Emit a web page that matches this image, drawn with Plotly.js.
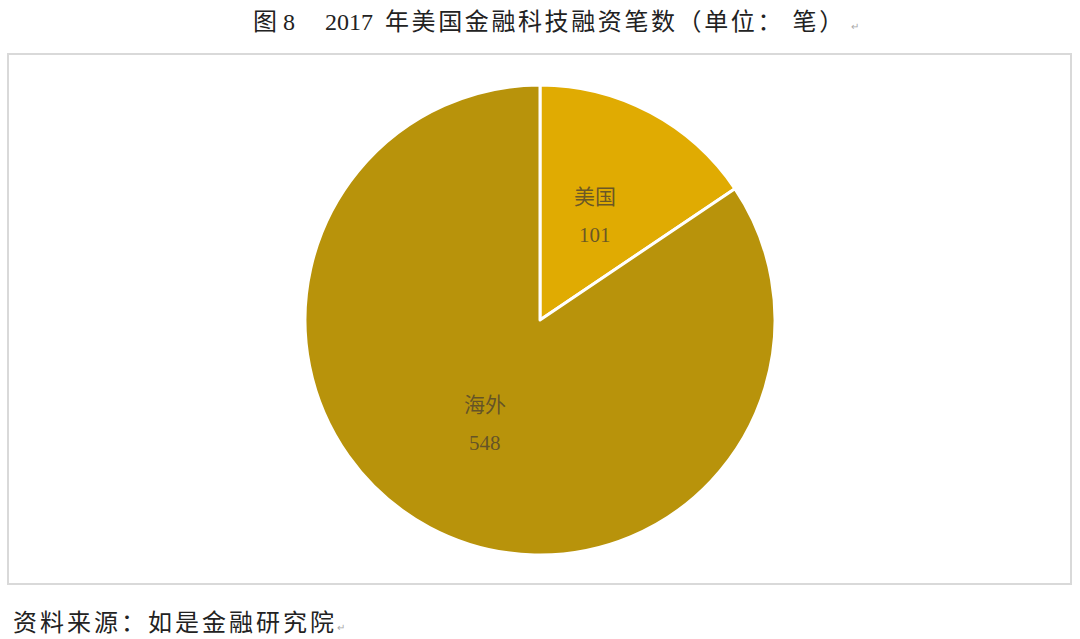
<!DOCTYPE html>
<html>
<head>
<meta charset="utf-8">
<script src="https://cdn.plot.ly/plotly-3.0.1.min.js"></script>
<style>
  html, body { margin: 0; padding: 0; background: #fff; }
  #chart { width: 1080px; height: 639px; }
</style>
</head>
<body>
<div id="chart"></div>
<script>
// 2017 US fintech deal counts
const regions = ["美国", "海外"];
const deals = [101, 548];
const sliceColors = ["#E0AB02", "#B8930B"];

const figNo = "图 8";
const titleYear = "2017";
const titleText = "年美国金融科技融资笔数（单位： 笔）";
const sourceText = "资料来源：如是金融研究院";

const W = 1080, H = 639;
const fontFam = "'Liberation Serif', 'Noto Sans CJK SC', serif";
const labelColor = "rgba(85,72,45,0.85)";

// pie box in pixels: centre (540,320), radius 235
const cx = 540, cy = 320, R = 235;

var trace = {
  type: "pie",
  labels: regions,
  values: deals,
  sort: false,
  direction: "clockwise",
  rotation: 0,
  marker: { colors: sliceColors, line: { color: "#ffffff", width: 3 } },
  textinfo: "none",
  hoverinfo: "label+value+percent",
  showlegend: false,
  domain: { x: [(cx - R) / W, (cx + R) / W], y: [1 - (cy + R) / H, 1 - (cy - R) / H] }
};

// slice labels sit halfway out along each slice's bisector
var total = deals.reduce((a, b) => a + b, 0);
var sliceNotes = [];
var cum = 0;
for (var i = 0; i < deals.length; i++) {
  var mid = (cum + deals[i] / 2) / total * 2 * Math.PI;
  cum += deals[i];
  var px = cx + 0.5 * R * Math.sin(mid);
  var py = cy - 0.5 * R * Math.cos(mid);
  sliceNotes.push({
    text: regions[i], xref: "paper", yref: "paper", x: px / W, y: 1 - py / H,
    yshift: 19, showarrow: false, font: { family: fontFam, size: 21, color: labelColor }
  });
  sliceNotes.push({
    text: String(deals[i]), xref: "paper", yref: "paper", x: px / W, y: 1 - py / H,
    yshift: -19, showarrow: false, font: { family: fontFam, size: 21, color: labelColor }
  });
}

var layout = {
  width: W,
  height: H,
  margin: { l: 0, r: 0, t: 0, b: 0 },
  paper_bgcolor: "#ffffff",
  font: { family: fontFam, color: "#222" },
  shapes: [
    {
      type: "rect", xref: "paper", yref: "paper",
      x0: 8 / W, x1: 1071 / W, y0: 1 - 584 / H, y1: 1 - 54 / H,
      line: { color: "#d9d9d9", width: 2 }
    }
  ],
  annotations: [
    {
      text: figNo + "     " + titleYear + "  <span style=\"letter-spacing:2.6px\">" + titleText +
        "</span><span style=\"font-size:10px;color:#aaa\">  ↵</span>",
      xref: "paper", yref: "paper",
      x: 251 / W, y: 1 - 22 / H, xanchor: "left", yanchor: "middle",
      showarrow: false, font: { family: fontFam, size: 24, color: "#222" }
    },
    {
      text: "<span style=\"letter-spacing:3px\">" + sourceText + "</span><span style=\"font-size:10px;color:#aaa\">↵</span>",
      xref: "paper", yref: "paper",
      x: 11 / W, y: 1 - 623 / H, xanchor: "left", yanchor: "middle",
      showarrow: false, font: { family: fontFam, size: 24, color: "#222" }
    }
  ].concat(sliceNotes)
};

Plotly.newPlot("chart", [trace], layout, { displayModeBar: false, staticPlot: true });
</script>
</body>
</html>
